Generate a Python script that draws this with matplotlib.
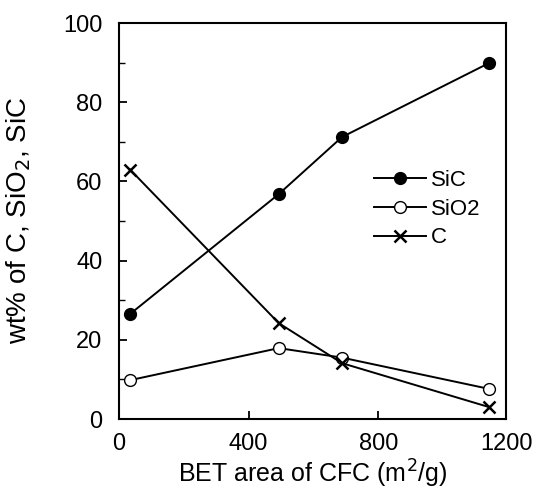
import numpy as np
import matplotlib.pyplot as plt

# data
bet_area = [34, 493, 688, 1142]
sic = [26.5, 56.8, 71.2, 89.9]
sio2 = [9.8, 17.9, 15.5, 7.6]
carbon = [63, 24.2, 14.1, 3.0]

plt.rcParams['font.family'] = ['Liberation Sans', 'DejaVu Sans']

fig = plt.figure(figsize=(5.34, 4.96), dpi=100)
# axes box: x 119..506 px, y 23..419 px
ax = fig.add_axes([119 / 534, 1 - 419 / 496, 387 / 534, 396 / 496])

ax.plot(bet_area, sic, '-o', color='black', lw=1.4, ms=8.5, mfc='black', label='SiC')
ax.plot(bet_area, sio2, '-o', color='black', lw=1.4, ms=8.5, mfc='white', label='SiO2')
ax.plot(bet_area, carbon, '-x', color='black', lw=1.4, ms=8.5, mew=1.8, label='C')

ax.set_xlim(0, 1194)
ax.set_ylim(0, 100)
ax.set_xticks([0, 400, 800])
ax.set_yticks([0, 20, 40, 60, 80, 100])
ax.set_yticks(np.arange(10, 100, 20), minor=True)
ax.tick_params(direction='in', length=6, width=1.3, labelsize=17)
ax.tick_params(axis='x', pad=10)
ax.tick_params(axis='y', pad=12)
ax.tick_params(which='minor', direction='in', length=4, width=1.0)
# the 1200 label sits just past the right spine
ax.annotate('1200', xy=(1194, 0), xycoords=('data', 'axes fraction'),
            xytext=(0, -10), textcoords='offset points',
            ha='center', va='top', fontsize=17, annotation_clip=False)
for s in ax.spines.values():
    s.set_linewidth(1.5)

ax.set_xlabel('BET area of CFC (m$^2$/g)', fontsize=18)
ax.xaxis.set_label_coords(0.5, -0.098)
ax.set_ylabel('wt% of C, SiO$_2$, SiC', fontsize=20)
ax.yaxis.set_label_coords(-0.222, 0.502)

ax.legend(loc='center left', bbox_to_anchor=(0.659, 0.530), frameon=False, fontsize=16,
          handlelength=2.35, handletextpad=0.2, labelspacing=0.35,
          borderpad=0, borderaxespad=0)

fig.savefig('out.png', dpi=100)
